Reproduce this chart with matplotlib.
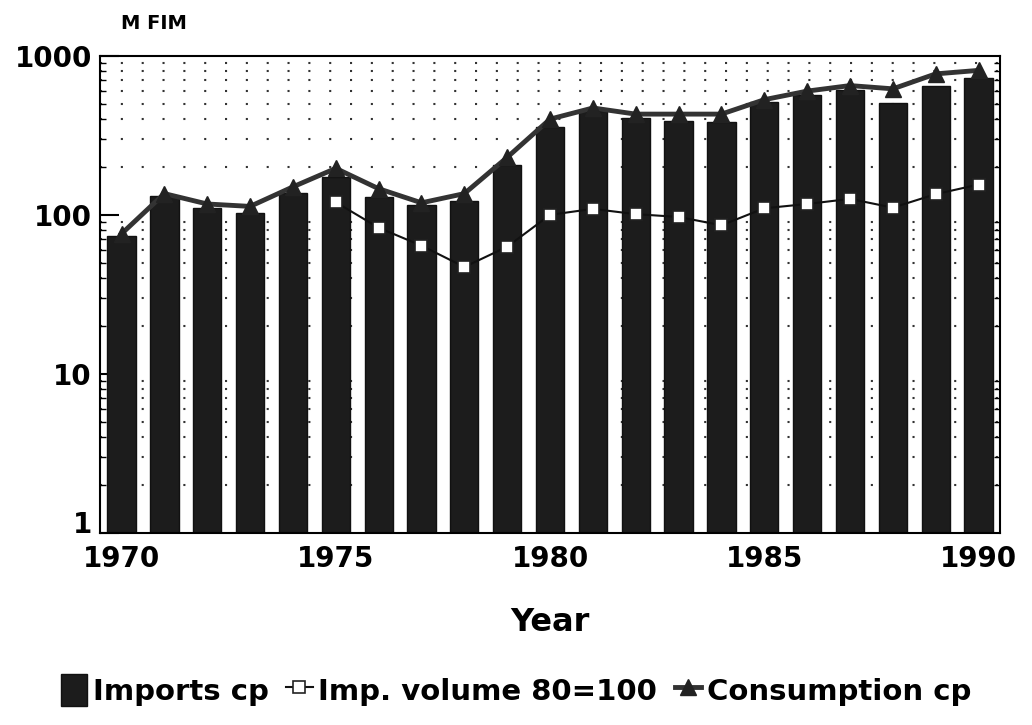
import matplotlib.pyplot as plt
import matplotlib.transforms as mtransforms
import numpy as np
from matplotlib.ticker import LogLocator, NullFormatter

plt.rcParams['font.family'] = ['DejaVu Sans']
plt.rcParams['font.weight'] = 'bold'

years = list(range(1970, 1991))
imports_cp = [73, 130, 109, 101, 137, 172, 128, 114, 121, 206, 355,
              451, 405, 390, 380, 515, 567, 607, 507, 646, 720]
consumption_cp = [76, 136, 117, 113, 150, 196, 146, 119, 136, 230, 400,
                  470, 430, 430, 430, 530, 600, 650, 620, 770, 810]
volume_years = list(range(1975, 1991))
imp_volume = [120, 83, 64, 47, 63, 100, 109, 101, 97, 86,
              110, 117, 126, 111, 135, 155]

names = ['Imports cp', 'Imp. volume 80=100', 'Consumption cp']


def plot_imports():
    fig = plt.figure(figsize=(10.32, 7.25), dpi=100)
    ax = fig.add_axes([0.097, 0.265, 0.872, 0.658])

    bars = ax.bar(years, imports_cp, width=0.66, bottom=1, color='#1c1c1c',
                  edgecolor='#111111', zorder=2)
    cons, = ax.plot(years, consumption_cp, color='#333333', lw=3.5,
                    marker='^', ms=11, mfc='#222222', mec='#222222', zorder=4)
    vol, = ax.plot(volume_years, imp_volume, color='#111111', lw=1.5,
                   marker='s', ms=8, mfc='white', mec='#222222', mew=1.2, zorder=5)

    ax.set_yscale('log')
    ax.set_ylim(1, 1000)
    ax.set_xlim(1969.5, 1990.5)

    ax.set_xticks([1970, 1975, 1980, 1985, 1990])
    ax.set_xticklabels(['1970', '1975', '1980', '1985', '1990'])
    ax.set_yticks([1, 10, 100, 1000])
    ax.set_yticklabels(['1', '10', '100', '1000'])
    ax.yaxis.set_minor_locator(LogLocator(base=10, subs=np.arange(2, 10)))
    ax.yaxis.set_minor_formatter(NullFormatter())
    ax.tick_params(axis='x', labelsize=20, length=0, pad=9)
    ax.tick_params(axis='y', which='major', labelsize=20, direction='in',
                   length=14, width=1.5, pad=6)
    ax.tick_params(axis='y', which='minor', direction='in', length=4,
                   width=1.0, right=True, left=True)

    # lift the "1" a little so it sits above 1970
    lift = mtransforms.ScaledTranslation(0, 8 / 72, fig.dpi_scale_trans)
    lab1 = ax.get_yticklabels()[0]
    lab1.set_transform(lab1.get_transform() + lift)

    # dotted rows at the minor log values
    ax.grid(True, axis='y', which='minor', ls=(0, (1, 9)), color='#333333',
            lw=1.5, zorder=1)

    for s in ax.spines.values():
        s.set_linewidth(1.5)

    ax.set_xlabel('Year', fontsize=23, fontweight='bold', labelpad=24)
    fig.text(0.117, 0.967, 'M FIM', fontsize=14, fontweight='bold',
             ha='left', va='center')

    fig.legend([bars, vol, cons], names, loc='center', bbox_to_anchor=(0.5, 0.048),
               ncol=3, frameon=False, fontsize=21, handlelength=0.9,
               handleheight=1.3, handletextpad=0.2, columnspacing=0.6)

    fig.savefig('out.png', dpi=100)


plot_imports()
